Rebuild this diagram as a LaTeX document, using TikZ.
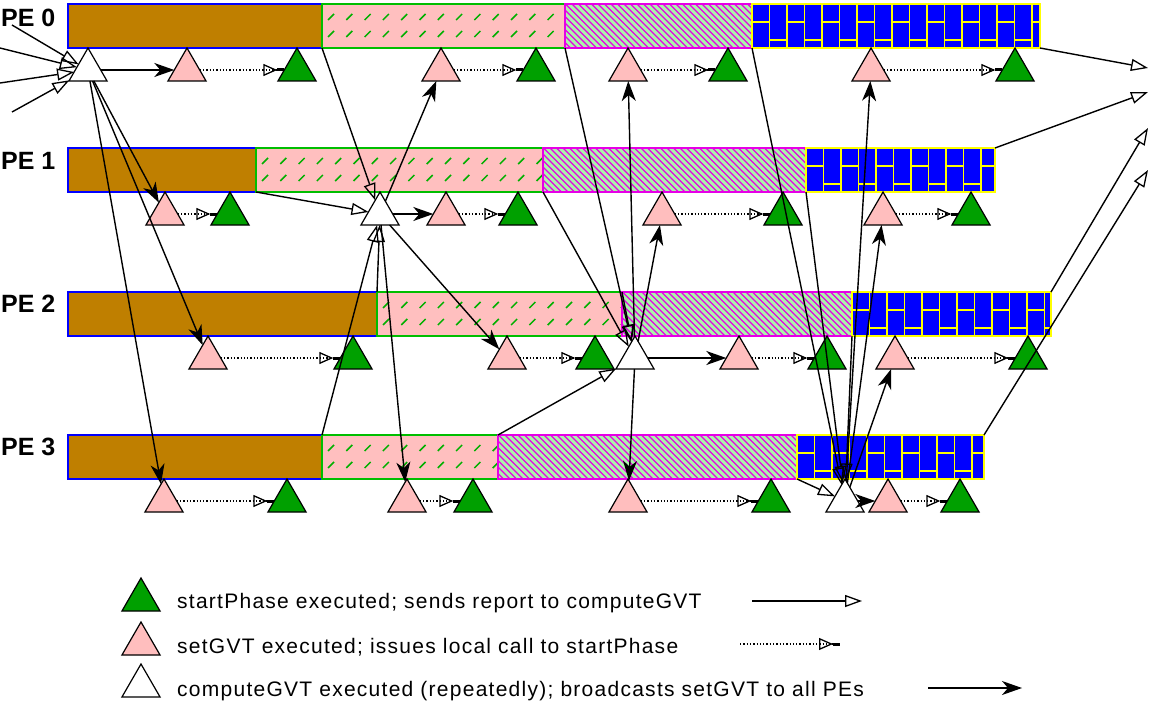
\documentclass[tikz,border=0pt]{standalone}
\usepackage{fontspec}
\setmainfont{Liberation Sans}
\newfontfamily\legfont[LetterSpace=6]{Liberation Sans}
\usetikzlibrary{arrows.meta,shapes.geometric}
\definecolor{brownbar}{RGB}{191,127,0}
\definecolor{pinkbar}{RGB}{255,191,191}
\definecolor{greenedge}{RGB}{0,190,0}
\definecolor{dashgreen}{RGB}{0,175,0}
\definecolor{hatchbg}{RGB}{170,245,170}
\definecolor{magentaline}{RGB}{230,0,230}
\definecolor{bluebar}{RGB}{0,0,255}
\definecolor{yellowline}{RGB}{255,255,0}
\definecolor{trigreen}{RGB}{0,160,0}
\definecolor{tripink}{RGB}{255,190,190}
% #1 = left x, #2 = width, #3 = top y
\newcommand\PinkPat[3]{%
  \begin{scope}
    \clip (#1,#3) rectangle ++(#2,44);
    \foreach \k in {0,...,17} {
      \draw[dashgreen,line width=1.5pt] (#1+6+\k*18.3,#3+16) -- ++(6,-6);
      \draw[dashgreen,line width=1.5pt] (#1+6+\k*18.3,#3+33) -- ++(6,-6);
    }
  \end{scope}
  \draw[greenedge,line width=1.3pt] (#1,#3) rectangle ++(#2,44);}
\newcommand\HatchPat[3]{%
  \begin{scope}
    \clip (#1,#3) rectangle ++(#2,44);
    \foreach \k in {0,...,55} {
      \draw[magentaline,line width=1.2pt] (#1-46+\k*6.5,#3-1) -- ++(46,46);
    }
  \end{scope}
  \draw[magentaline,line width=1.3pt] (#1,#3) rectangle ++(#2,44);}
\newcommand\BrickPat[3]{%
  \begin{scope}
    \clip (#1,#3) rectangle ++(#2,44);
    \foreach \k in {0,...,17} {
      \draw[yellowline,line width=1.5pt] (#1+\k*17.5,#3) -- ++(0,44);
      \pgfmathsetmacro\yy{18+18*mod(\k,2)}
      \draw[yellowline,line width=1.5pt] (#1+\k*17.5,#3+\yy) -- ++(17.5,0);
    }
  \end{scope}
  \draw[yellowline,line width=1.5pt] (#1,#3) rectangle ++(#2,44);}
\begin{document}
\begin{tikzpicture}[x=1pt,y=-1pt,
  seg/.style={minimum height=44pt, inner sep=0pt, outer sep=0pt, anchor=north west, line width=1.3pt},
  brownseg/.style={seg, fill=brownbar, draw=bluebar},
  pinkseg/.style={seg, fill=pinkbar, draw=greenedge},
  hatchseg/.style={seg, fill=hatchbg, draw=magentaline},
  blueseg/.style={seg, fill=bluebar, draw=yellowline},
  tri/.style={regular polygon, regular polygon sides=3, minimum size=44pt, inner sep=0pt, outer sep=0pt, draw=black, line width=1.2pt},
  gtri/.style={tri, fill=trigreen},
  ptri/.style={tri, fill=tripink},
  wtri/.style={tri, fill=white},
  report/.style={-{Triangle[open,length=17pt,width=12pt,line width=1.3pt]}, line width=1.4pt},
  bcast/.style={-{Stealth[length=20pt,width=14pt,inset=6pt]}, line width=1.4pt},
  localcall/.style={dotted, line width=1.3pt, -{Triangle[open,length=14pt,width=12pt,line width=1.3pt]Rectangle[length=7pt,width=3pt]}},
  pelabel/.style={font=\bfseries\fontsize{25}{25}\selectfont, anchor=west, inner sep=0pt},
  legtext/.style={font=\legfont\fontsize{21}{21}\selectfont, anchor=west, inner sep=0pt}
]
\useasboundingbox (0,0) rectangle (1151,706);
\fill[white] (0,0) rectangle (1151,706);

% labels
\node[pelabel] (l0) at (1,18) {PE 0};
\node[pelabel] (l1) at (1,161) {PE 1};
\node[pelabel] (l2) at (1,304) {PE 2};
\node[pelabel] (l3) at (1,447) {PE 3};

% bars
\node[brownseg, minimum width=254pt] (b0a) at (68,4) {};
\node[pinkseg,  minimum width=243pt] (b0b) at (322,4) {};
\node[hatchseg, minimum width=187pt] (b0c) at (565,4) {};
\node[blueseg,  minimum width=288pt] (b0d) at (752,4) {};

\node[brownseg, minimum width=188pt] (b1a) at (68,148) {};
\node[pinkseg,  minimum width=287pt] (b1b) at (256,148) {};
\node[hatchseg, minimum width=263pt] (b1c) at (543,148) {};
\node[blueseg,  minimum width=189pt] (b1d) at (806,148) {};

\node[brownseg, minimum width=309pt] (b2a) at (68,292) {};
\node[pinkseg,  minimum width=245pt] (b2b) at (377,292) {};
\node[hatchseg, minimum width=230pt] (b2c) at (622,292) {};
\node[blueseg,  minimum width=199pt] (b2d) at (852,292) {};

\node[brownseg, minimum width=254pt] (b3a) at (68,435) {};
\node[pinkseg,  minimum width=176pt] (b3b) at (322,435) {};
\node[hatchseg, minimum width=299pt] (b3c) at (498,435) {};
\node[blueseg,  minimum width=187pt] (b3d) at (797,435) {};

% fill patterns
\PinkPat{322}{243}{4}   \HatchPat{565}{187}{4}   \BrickPat{752}{288}{4}
\PinkPat{256}{287}{148} \HatchPat{543}{263}{148} \BrickPat{806}{189}{148}
\PinkPat{377}{245}{292} \HatchPat{622}{230}{292} \BrickPat{852}{199}{292}
\PinkPat{322}{176}{435} \HatchPat{498}{299}{435} \BrickPat{797}{187}{435}

% triangles PE0
\node[wtri] (w0) at (88,70) {};
\node[ptri] (p0a) at (187,70) {};
\node[gtri] (g0a) at (297,70) {};
\node[ptri] (p0b) at (441,70) {};
\node[gtri] (g0b) at (536,70) {};
\node[ptri] (p0c) at (628,70) {};
\node[gtri] (g0c) at (728,70) {};
\node[ptri] (p0d) at (871,70) {};
\node[gtri] (g0d) at (1015,70) {};
% PE1
\node[ptri] (p1a) at (165,214) {};
\node[gtri] (g1a) at (230,214) {};
\node[wtri] (w1) at (380,214) {};
\node[ptri] (p1b) at (446,214) {};
\node[gtri] (g1b) at (518,214) {};
\node[ptri] (p1c) at (662,214) {};
\node[gtri] (g1c) at (783,214) {};
\node[ptri] (p1d) at (883,214) {};
\node[gtri] (g1d) at (971,214) {};
% PE2
\node[ptri] (p2a) at (208,358) {};
\node[gtri] (g2a) at (353,358) {};
\node[ptri] (p2b) at (507,358) {};
\node[gtri] (g2b) at (595,358) {};
\node[wtri] (w2) at (635,358) {};
\node[ptri] (p2c) at (739,358) {};
\node[gtri] (g2c) at (827,358) {};
\node[ptri] (p2d) at (895,358) {};
\node[gtri] (g2d) at (1028,358) {};
% PE3
\node[ptri] (p3a) at (164,501) {};
\node[gtri] (g3a) at (287,501) {};
\node[ptri] (p3b) at (407,501) {};
\node[gtri] (g3b) at (473,501) {};
\node[ptri] (p3c) at (628,501) {};
\node[gtri] (g3c) at (771,501) {};
\node[wtri] (w3) at (845,501) {};
\node[ptri] (p3d) at (888,501) {};
\node[gtri] (g3d) at (960,501) {};

% local calls
\foreach \r in {0,1,2,3}{
  \foreach \c in {a,b,c,d}{
    \draw[localcall] (p\r\c) -- (g\r\c);
  }
}

% broadcasts
\foreach \r in {0,1,2,3}{
  \draw[bcast] (w0) -- (p\r a);
  \draw[bcast] (w1) -- (p\r b);
  \draw[bcast] (w2) -- (p\r c);
  \draw[bcast] (w3) -- (p\r d);
}

% incoming reports to first computeGVT
\coordinate (in1) at (12,25);
\coordinate (in2) at (0,48);
\coordinate (in3) at (0,83);
\coordinate (in4) at (12,112);
\foreach \i in {in1,in2,in3,in4}{ \draw[report] (\i) -- (w0); }

% reports round 2
\draw[report] (b0a.south east) -- (w1);
\draw[report] (b1a.south east) -- (w1);
\draw[report] (b2a.north east) -- (w1);
\draw[report] (b3a.north east) -- (w1);
% round 3
\draw[report] (b0b.south east) -- (w2);
\draw[report] (b1b.south east) -- (w2);
\draw[report] (b2b.north east) -- (w2);
\draw[report] (b3b.north east) -- (w2);
% round 4
\draw[report] (b0c.south east) -- (w3);
\draw[report] (b1c.south east) -- (w3);
\draw[report] (b2c.south east) -- (w3);
\draw[report] (b3c.south east) -- (w3);
% outgoing
\coordinate (o0) at (1148,68);
\coordinate (o1) at (1148,92);
\coordinate (o2) at (1148,128);
\coordinate (o3) at (1148,170);
\draw[report] (b0d.south east) -- (o0);
\draw[report] (b1d.north east) -- (o1);
\draw[report] (b2d.north east) -- (o2);
\draw[report] (b3d.north east) -- (o3);

% legend
\node[gtri] (lg) at (141,600) {};
\node[ptri] (lp) at (141,644) {};
\node[wtri] (lw) at (141,686) {};
\node[legtext] (t1) at (177,603) {startPhase executed; sends report to computeGVT};
\node[legtext] (t2) at (177,647) {setGVT executed; issues local call to startPhase};
\node[legtext] (t3) at (177,691) {computeGVT executed (repeatedly); broadcasts setGVT to all PEs};
\coordinate (a1s) at (752,601); \coordinate (a1e) at (862,601);
\coordinate (a2s) at (740,644); \coordinate (a2e) at (840,644);
\coordinate (a3s) at (928,688); \coordinate (a3e) at (1022,688);
\draw[report] (a1s) -- (a1e);
\draw[localcall] (a2s) -- (a2e);
\draw[bcast] (a3s) -- (a3e);
\end{tikzpicture}
\end{document}
